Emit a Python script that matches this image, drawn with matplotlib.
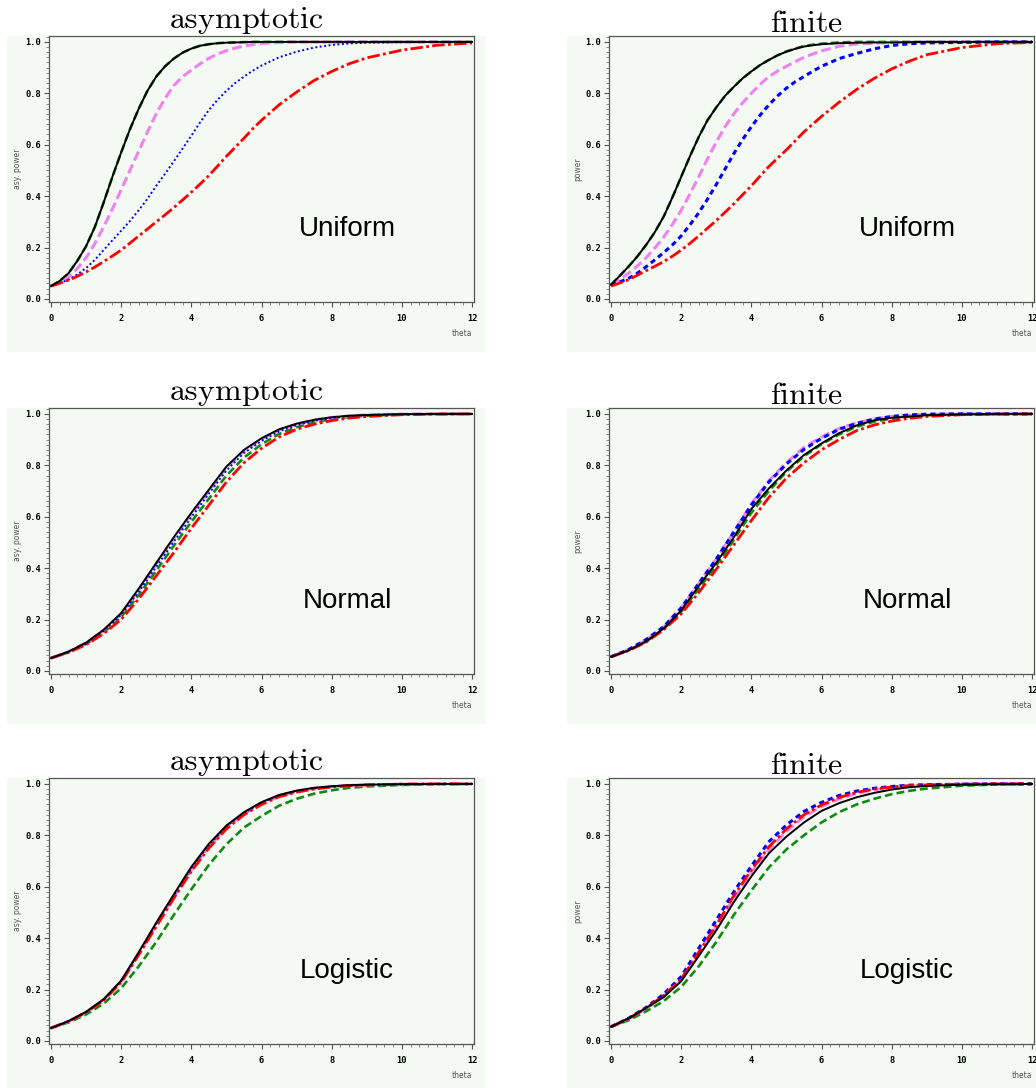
import matplotlib
matplotlib.use('Agg')
import matplotlib.pyplot as plt
from matplotlib.patches import Rectangle
from matplotlib.ticker import MultipleLocator

plt.rcParams['mathtext.fontset'] = 'cm'

theta_u = [0, 0.25, 0.5, 0.75, 1, 1.25, 1.5, 1.75, 2, 2.25, 2.5, 2.75, 3, 3.25, 3.5, 3.75,
           4, 4.25, 4.5, 4.75, 5, 5.25, 5.5, 5.75, 6, 6.5, 7, 7.5, 8, 8.5, 9, 10, 11, 12]
theta = [0, 0.5, 1, 1.5, 2, 2.5, 3, 3.5, 4, 4.5, 5, 5.5, 6, 6.5, 7, 7.5, 8, 8.5, 9, 10, 11, 12]

# ---- Uniform, asymptotic (on theta_u)
unif_asy_black = [0.05, 0.07, 0.10, 0.148, 0.205, 0.28, 0.375, 0.475, 0.57, 0.66, 0.74, 0.81, 0.865, 0.905, 0.935, 0.958,
                  0.974, 0.985, 0.991, 0.995, 0.997, 0.998, 0.999, 1.0, 1.0, 1.0, 1.0, 1.0, 1.0, 1.0, 1.0, 1.0, 1.0, 1.0]
unif_asy_green = [0.05, 0.07, 0.10, 0.148, 0.205, 0.28, 0.375, 0.475, 0.57, 0.66, 0.74, 0.81, 0.865, 0.905, 0.935, 0.958,
                  0.974, 0.985, 0.991, 0.995, 0.997, 0.998, 0.999, 1.0, 1.0, 1.0, 1.0, 1.0, 1.0, 1.0, 1.0, 1.0, 1.0, 1.0]
unif_asy_violet = [0.05, 0.065, 0.085, 0.118, 0.16, 0.215, 0.28, 0.35, 0.425, 0.50, 0.575, 0.65, 0.72, 0.78, 0.83, 0.865,
                   0.89, 0.915, 0.936, 0.953, 0.966, 0.976, 0.984, 0.99, 0.994, 0.998, 1.0, 1.0, 1.0, 1.0, 1.0, 1.0, 1.0, 1.0]
unif_asy_blue = [0.05, 0.061, 0.075, 0.095, 0.12, 0.152, 0.19, 0.228, 0.265, 0.303, 0.345, 0.39, 0.44, 0.487, 0.535, 0.585,
                 0.635, 0.687, 0.735, 0.775, 0.81, 0.84, 0.865, 0.888, 0.908, 0.94, 0.962, 0.978, 0.988, 0.994, 0.997, 0.999, 1.0, 1.0]
unif_asy_red = [0.05, 0.061, 0.073, 0.088, 0.105, 0.124, 0.145, 0.167, 0.19, 0.217, 0.245, 0.272, 0.30, 0.327, 0.355, 0.385,
                0.415, 0.447, 0.48, 0.517, 0.555, 0.59, 0.625, 0.662, 0.695, 0.755, 0.805, 0.85, 0.885, 0.915, 0.938, 0.968, 0.987, 0.996]

# ---- Uniform, finite (on theta_u)
unif_fin_black = [0.055, 0.09, 0.126, 0.165, 0.21, 0.26, 0.32, 0.395, 0.475, 0.555, 0.63, 0.695, 0.745, 0.79, 0.825, 0.858,
                  0.885, 0.91, 0.93, 0.948, 0.962, 0.973, 0.982, 0.987, 0.991, 0.995, 0.997, 0.998, 0.998, 0.999, 1.0, 1.0, 1.0, 1.0]
unif_fin_green = [0.055, 0.09, 0.126, 0.165, 0.21, 0.26, 0.32, 0.395, 0.475, 0.555, 0.63, 0.695, 0.745, 0.79, 0.825, 0.858,
                  0.885, 0.91, 0.93, 0.948, 0.963, 0.974, 0.984, 0.989, 0.993, 0.998, 1.0, 1.0, 1.0, 1.0, 1.0, 1.0, 1.0, 1.0]
unif_fin_violet = [0.055, 0.077, 0.10, 0.128, 0.16, 0.198, 0.24, 0.29, 0.345, 0.408, 0.475, 0.545, 0.61, 0.67, 0.72, 0.763,
                   0.80, 0.835, 0.865, 0.887, 0.905, 0.923, 0.94, 0.953, 0.965, 0.983, 0.992, 0.995, 0.998, 0.999, 1.0, 1.0, 1.0, 1.0]
unif_fin_blue = [0.055, 0.066, 0.08, 0.10, 0.125, 0.152, 0.18, 0.21, 0.245, 0.288, 0.335, 0.388, 0.445, 0.505, 0.565, 0.62,
                 0.67, 0.715, 0.755, 0.79, 0.82, 0.845, 0.865, 0.886, 0.905, 0.935, 0.955, 0.973, 0.986, 0.993, 0.996, 0.998, 1.0, 1.0]
unif_fin_red = [0.05, 0.062, 0.075, 0.092, 0.11, 0.127, 0.145, 0.166, 0.19, 0.216, 0.245, 0.275, 0.305, 0.337, 0.37, 0.405,
                0.44, 0.478, 0.515, 0.548, 0.58, 0.615, 0.65, 0.68, 0.71, 0.765, 0.815, 0.858, 0.895, 0.925, 0.95, 0.978, 0.993, 0.998]

# ---- Normal, asymptotic
norm_asy_black = [0.05, 0.075, 0.11, 0.16, 0.225, 0.32, 0.42, 0.52, 0.615, 0.705, 0.795, 0.86, 0.905, 0.94, 0.962, 0.977, 0.987, 0.993, 0.996, 0.999, 1.0, 1.0]
norm_asy_green = [0.05, 0.073, 0.105, 0.15, 0.21, 0.295, 0.39, 0.487, 0.58, 0.67, 0.76, 0.83, 0.882, 0.922, 0.948, 0.967, 0.98, 0.988, 0.993, 0.998, 1.0, 1.0]
norm_asy_violet = [0.05, 0.075, 0.109, 0.158, 0.222, 0.316, 0.415, 0.515, 0.61, 0.70, 0.79, 0.856, 0.902, 0.938, 0.96, 0.976, 0.986, 0.992, 0.996, 0.999, 1.0, 1.0]
norm_asy_blue = [0.05, 0.074, 0.107, 0.155, 0.218, 0.308, 0.405, 0.503, 0.598, 0.69, 0.78, 0.848, 0.895, 0.932, 0.956, 0.973, 0.984, 0.991, 0.995, 0.999, 1.0, 1.0]
norm_asy_red = [0.05, 0.072, 0.102, 0.145, 0.2, 0.28, 0.37, 0.46, 0.555, 0.645, 0.735, 0.81, 0.866, 0.91, 0.94, 0.96, 0.974, 0.984, 0.99, 0.997, 0.999, 1.0]

# ---- Normal, finite
norm_fin_black = [0.055, 0.08, 0.115, 0.165, 0.235, 0.33, 0.42, 0.52, 0.63, 0.71, 0.78, 0.84, 0.885, 0.925, 0.955, 0.975, 0.985, 0.99, 0.995, 0.998, 1.0, 1.0]
norm_fin_green = [0.055, 0.08, 0.114, 0.163, 0.23, 0.32, 0.41, 0.51, 0.615, 0.70, 0.775, 0.835, 0.882, 0.92, 0.95, 0.97, 0.982, 0.99, 0.995, 0.998, 1.0, 1.0]
norm_fin_violet = [0.055, 0.082, 0.12, 0.17, 0.245, 0.34, 0.435, 0.54, 0.65, 0.74, 0.81, 0.87, 0.91, 0.943, 0.965, 0.98, 0.99, 0.995, 0.998, 1.0, 1.0, 1.0]
norm_fin_blue = [0.055, 0.083, 0.122, 0.172, 0.245, 0.34, 0.435, 0.54, 0.645, 0.735, 0.805, 0.862, 0.905, 0.94, 0.963, 0.98, 0.99, 0.996, 0.999, 1.0, 1.0, 1.0]
norm_fin_red = [0.055, 0.079, 0.112, 0.16, 0.222, 0.305, 0.395, 0.49, 0.585, 0.675, 0.75, 0.81, 0.86, 0.9, 0.935, 0.957, 0.972, 0.983, 0.99, 0.997, 0.999, 1.0]

# ---- Logistic, asymptotic
logi_asy_black = [0.05, 0.077, 0.113, 0.162, 0.235, 0.345, 0.46, 0.57, 0.677, 0.767, 0.838, 0.89, 0.929, 0.957, 0.974, 0.985, 0.991, 0.995, 0.997, 0.999, 1.0, 1.0]
logi_asy_green = [0.05, 0.072, 0.103, 0.145, 0.205, 0.29, 0.385, 0.49, 0.59, 0.685, 0.765, 0.83, 0.875, 0.915, 0.942, 0.962, 0.975, 0.985, 0.99, 0.996, 0.999, 1.0]
logi_asy_violet = [0.05, 0.076, 0.112, 0.16, 0.23, 0.338, 0.45, 0.56, 0.665, 0.755, 0.83, 0.884, 0.923, 0.952, 0.97, 0.982, 0.989, 0.994, 0.996, 0.999, 1.0, 1.0]
logi_asy_blue = [0.05, 0.077, 0.112, 0.161, 0.233, 0.342, 0.456, 0.566, 0.672, 0.762, 0.834, 0.887, 0.926, 0.955, 0.972, 0.984, 0.99, 0.995, 0.997, 0.999, 1.0, 1.0]
logi_asy_red = [0.05, 0.076, 0.111, 0.158, 0.228, 0.335, 0.445, 0.555, 0.66, 0.75, 0.825, 0.88, 0.92, 0.95, 0.968, 0.98, 0.988, 0.993, 0.996, 0.999, 1.0, 1.0]

# ---- Logistic, finite
logi_fin_black = [0.055, 0.088, 0.128, 0.17, 0.232, 0.33, 0.43, 0.54, 0.64, 0.73, 0.795, 0.85, 0.895, 0.925, 0.948, 0.965, 0.978, 0.987, 0.992, 0.997, 0.999, 1.0]
logi_fin_green = [0.055, 0.08, 0.115, 0.155, 0.21, 0.29, 0.385, 0.49, 0.585, 0.675, 0.745, 0.8, 0.85, 0.89, 0.92, 0.942, 0.96, 0.973, 0.982, 0.993, 0.998, 1.0]
logi_fin_violet = [0.055, 0.086, 0.127, 0.175, 0.238, 0.34, 0.445, 0.555, 0.655, 0.745, 0.815, 0.872, 0.912, 0.942, 0.963, 0.977, 0.986, 0.992, 0.995, 0.999, 1.0, 1.0]
logi_fin_blue = [0.055, 0.088, 0.13, 0.182, 0.25, 0.36, 0.47, 0.58, 0.68, 0.775, 0.84, 0.893, 0.928, 0.955, 0.972, 0.983, 0.99, 0.995, 0.997, 0.999, 1.0, 1.0]
logi_fin_red = [0.055, 0.086, 0.127, 0.177, 0.24, 0.345, 0.45, 0.565, 0.665, 0.755, 0.825, 0.88, 0.918, 0.947, 0.967, 0.98, 0.988, 0.993, 0.996, 0.999, 1.0, 1.0]

dist_names = ['Uniform', 'Normal', 'Logistic']
col_titles = ['asymptotic', 'finite']
y_labels = ['asy. power', 'power']

row_theta = [theta_u, theta, theta]
panels = [
    [(unif_asy_green, unif_asy_violet, unif_asy_blue, unif_asy_red, unif_asy_black),
     (unif_fin_green, unif_fin_violet, unif_fin_blue, unif_fin_red, unif_fin_black)],
    [(norm_asy_green, norm_asy_violet, norm_asy_blue, norm_asy_red, norm_asy_black),
     (norm_fin_green, norm_fin_violet, norm_fin_blue, norm_fin_red, norm_fin_black)],
    [(logi_asy_green, logi_asy_violet, logi_asy_blue, logi_asy_red, logi_asy_black),
     (logi_fin_green, logi_fin_violet, logi_fin_blue, logi_fin_red, logi_fin_black)],
]

W, H = 1036, 1088
bg = '#f4f9f4'
fig = plt.figure(figsize=(W / 100, H / 100), dpi=100)

ax_left = [49, 609]          # pixel x of left frame
ax_top = [36, 408, 778]      # pixel y of top frame
ax_w, ax_h = 425, 266
bg_left = [7, 567]

for r in range(3):
    x = row_theta[r]
    for c in range(2):
        # light panel background behind each chart (zorder below the axes)
        fig.patches.append(Rectangle((bg_left[c] / W, 1 - (ax_top[r] + 316) / H), 478 / W, 316 / H,
                                     transform=fig.transFigure, facecolor=bg, edgecolor='none', zorder=-5))
        ax = fig.add_axes([ax_left[c] / W, 1 - (ax_top[r] + ax_h) / H, ax_w / W, ax_h / H])
        ax.set_facecolor(bg)
        green, violet, blue, red, black = panels[r][c]

        ax.plot(x, green, color='#128a12', lw=1.9, ls=(0, (3.0, 1.5)))
        ax.plot(x, violet, color='#ee82ee', lw=2.2, ls=(0, (3.2, 1.4)))
        if c == 0:
            ax.plot(x, blue, color='blue', lw=1.4, ls=(0, (1, 1.3)))
        else:
            ax.plot(x, blue, color='blue', lw=2.2, ls=(0, (1.7, 1.3)))
        ax.plot(x, red, color='red', lw=2.0, ls=(0, (4.5, 1.2, 1.0, 1.2)))
        ax.plot(x, black, color='black', lw=1.4)

        ax.set_xlim(-0.057, 12.057)
        ax.set_ylim(-0.012, 1.023)
        ax.set_xticks(range(0, 13, 2))
        ax.set_yticks([0, 0.2, 0.4, 0.6, 0.8, 1.0])
        ax.set_yticklabels(['0.0', '0.2', '0.4', '0.6', '0.8', '1.0'])
        ax.xaxis.set_minor_locator(MultipleLocator(0.25))
        ax.yaxis.set_minor_locator(MultipleLocator(0.02))
        ax.tick_params(which='major', direction='out', length=3.5, width=0.8, color='#555555',
                       labelsize=6.3, pad=2)
        ax.tick_params(which='minor', direction='out', length=2, width=0.6, color='#777777')
        ax.tick_params(axis='x', which='major', pad=5)
        for lab in ax.get_xticklabels() + ax.get_yticklabels():
            lab.set_family('DejaVu Sans Mono')
            lab.set_fontweight('bold')
        for sp in ax.spines.values():
            sp.set_color('#555555')
            sp.set_linewidth(0.9)

        ax.annotate(y_labels[c], xy=(0, 0.5), xycoords='axes fraction', xytext=(-31, 0),
                    textcoords='offset pixels', rotation=90, ha='center', va='center',
                    fontsize=5.5, color='#555555')
        ax.annotate('theta', xy=(1, 0), xycoords='axes fraction', xytext=(-12, -32),
                    textcoords='offset pixels', ha='center', va='center',
                    fontsize=5.5, color='#555555')
        ax.text(8.44, 0.272, dist_names[r], ha='center', va='center',
                fontsize=20, family='Liberation Sans', color='black')

        # serif column title centred on the panel background
        base_y = ax_top[r] - 8 if c == 0 else ax_top[r] - 4
        fig.text((bg_left[c] + 239) / W, 1 - base_y / H, r'$\mathrm{%s}$' % col_titles[c],
                 ha='center', va='baseline', fontsize=23)

fig.savefig('out.png', dpi=100)
